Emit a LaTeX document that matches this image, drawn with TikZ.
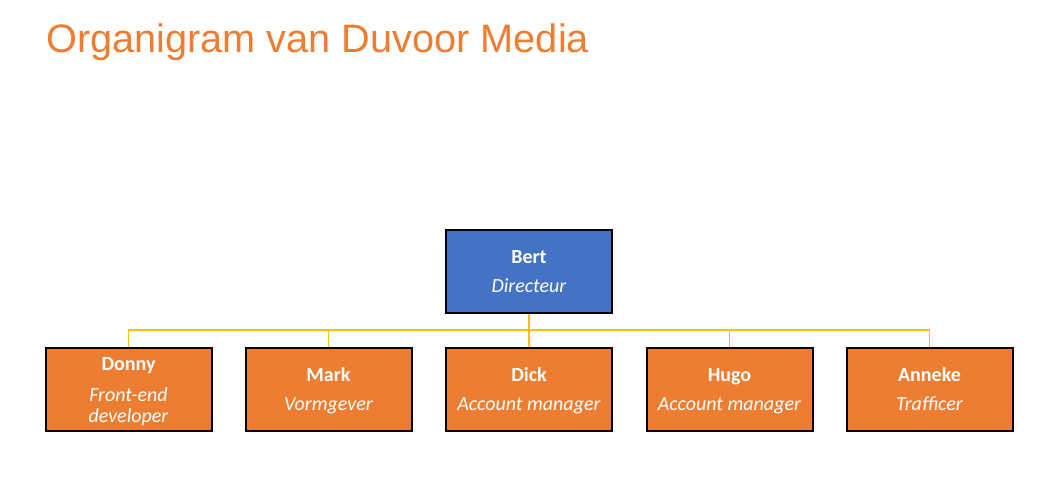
\documentclass[tikz,border=0pt]{standalone}
\usepackage{fontspec}
\setmainfont{Carlito}
\newfontfamily\titlefont{Liberation Sans}
\definecolor{orgorange}{HTML}{ED7D31}
\definecolor{orgblue}{HTML}{4472C4}
\definecolor{orgyellow}{HTML}{FFC000}
\newcommand\orgtop{\rule{0pt}{18pt}}
\newcommand\orgbot[1]{\rule[-#1]{0pt}{#1}}
\begin{document}
\begin{tikzpicture}[x=1pt,y=-1pt,
  box/.style={draw=black, line width=2pt, minimum width=166pt, minimum height=83pt,
    inner sep=0pt, text=white, align=center, font=\fontsize{20}{21}\selectfont},
  boss/.style={box, fill=orgblue},
  staff/.style={box, fill=orgorange},
  conn/.style={draw=orgyellow, line width=1.5pt}]
\useasboundingbox (0,0) rectangle (1057,479);
\node[anchor=base west, text=orgorange, font=\titlefont\fontsize{39.7}{44}\selectfont, inner sep=0pt] (title) at (46,52) {Organigram van Duvoor Media};
\node[boss] (bert) at (529,271.5) {\orgtop\textbf{Bert}\\[8pt]\textit{Directeur}\orgbot{5pt}};
\node[staff] (donny) at (128.5,389) {\orgtop\textbf{Donny}\\[10pt]\textit{Front-end}\\\textit{developer}\orgbot{2.5pt}};
\node[staff] (mark) at (328.5,389) {\orgtop\textbf{Mark}\\[8pt]\textit{Vormgever}\orgbot{5pt}};
\node[staff] (dick) at (529,389) {\orgtop\textbf{Dick}\\[8pt]\textit{Account manager}\orgbot{5pt}};
\node[staff] (hugo) at (729.5,389) {\orgtop\textbf{Hugo}\\[8pt]\textit{Account manager}\orgbot{5pt}};
\node[staff] (anneke) at (929.5,389) {\orgtop\textbf{Anneke}\\[8pt]\textit{Trafficer}\orgbot{5pt}};
\coordinate (bus) at (529,330);
\draw[conn] (bert.south) -- (bus);
\draw[conn] (bus) -| (donny.north);
\draw[conn] (bus) -| (mark.north);
\draw[conn] (bus) -- (dick.north);
\draw[conn] (bus) -| (hugo.north);
\draw[conn] (bus) -| (anneke.north);
\end{tikzpicture}
\end{document}
